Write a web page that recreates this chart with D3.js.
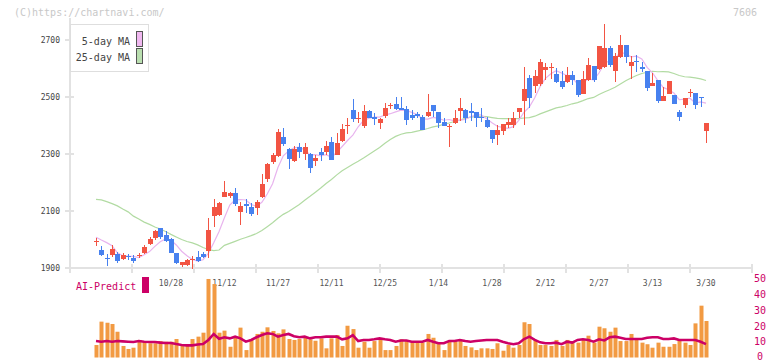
<!DOCTYPE html>
<html><head><meta charset="utf-8">
<script src="https://cdn.jsdelivr.net/npm/d3@7"></script>
<style>body{margin:0;background:#fff}svg{display:block}</style>
</head><body><svg id="c" width="772" height="361"></svg>
<script>
// ---- data ----
const tickIndex = [14,24,34,44,54,64,74,84,94,104,114];
const tickLabels = ["10/28","11/12","11/27","12/11","12/25","1/14","1/28","2/12","2/27","3/13","3/30"];
const priceTicks = [1900,2100,2300,2500,2700];
const volTicks = [0,10,20,30,40,50];

const open = [1994,1963,1936,1946,1949,1932,1942,1934,1942,1952,
1984,2004,2039,2016,2002,1952,1911,1911,1930,1940,
1949,1961,2082,2086,2150,2153,2164,2098,2123,2113,
2112,2148,2212,2273,2293,2360,2318,2275,2326,2299,
2300,2275,2308,2308,2343,2297,2346,2400,2454,2424,
2399,2451,2431,2410,2434,2468,2474,2462,2457,2437,
2439,2431,2433,2472,2448,2413,2395,2408,2451,2454,
2451,2448,2431,2419,2384,2367,2382,2402,2402,2448,
2487,2566,2539,2545,2595,2605,2581,2556,2551,2577,
2560,2511,2560,2609,2598,2604,2673,2591,2642,2683,
2609,2625,2604,2591,2540,2560,2486,2511,2507,2448,
2472,2513,2513,2501,2381];
const close = [1996,1946,1930,1967,1926,1946,1939,1926,1946,1975,
2002,2030,2008,1996,1954,1916,1920,1928,1932,1925,
1940,2033,2113,2128,2167,2164,2125,2118,2119,2089,
2131,2195,2265,2297,2376,2335,2282,2318,2308,2326,
2252,2286,2297,2328,2279,2340,2388,2402,2423,2425,
2451,2427,2422,2423,2462,2473,2458,2454,2419,2427,
2433,2384,2448,2451,2410,2399,2397,2425,2462,2425,
2445,2427,2427,2396,2353,2384,2405,2413,2425,2462,
2528,2498,2574,2622,2606,2606,2554,2534,2577,2560,
2507,2563,2612,2560,2679,2673,2612,2644,2683,2642,
2624,2623,2597,2533,2548,2486,2504,2556,2475,2431,
2498,2519,2472,2495,2410];
const high = [2007,1977,1949,1981,1956,1953,1949,1946,1954,1981,
2010,2033,2041,2030,2004,1954,1922,1931,1942,1960,
1957,2074,2141,2132,2205,2168,2180,2133,2142,2128,
2139,2230,2269,2302,2388,2391,2321,2328,2340,2340,
2302,2295,2322,2346,2359,2375,2405,2426,2493,2446,
2472,2454,2444,2427,2478,2480,2500,2499,2468,2454,
2448,2437,2511,2472,2448,2425,2405,2454,2498,2457,
2478,2448,2460,2431,2384,2402,2405,2425,2448,2462,
2606,2577,2595,2633,2618,2618,2601,2591,2606,2591,
2560,2591,2638,2609,2679,2756,2679,2655,2718,2683,
2644,2647,2624,2591,2585,2560,2536,2556,2507,2454,
2498,2528,2513,2501,2410];
const low = [1977,1942,1907,1940,1916,1928,1928,1919,1934,1949,
1981,1998,2001,1992,1952,1914,1905,1907,1895,1922,
1934,1935,2045,2082,2149,2146,2118,2051,2093,2083,
2086,2145,2203,2264,2291,2328,2247,2271,2287,2279,
2232,2258,2277,2297,2279,2297,2343,2370,2413,2408,
2390,2426,2402,2388,2425,2458,2453,2453,2402,2419,
2427,2384,2431,2431,2392,2397,2326,2405,2416,2410,
2416,2396,2413,2392,2338,2332,2367,2390,2390,2425,
2402,2460,2513,2540,2560,2562,2548,2527,2549,2542,
2501,2511,2556,2554,2595,2601,2604,2554,2636,2618,
2562,2589,2589,2521,2540,2480,2486,2511,2475,2416,
2460,2501,2458,2466,2340];
const volume = [7.9,22.7,22,21.2,16.3,7.3,5.4,6.2,11.1,10,
9,9,10.4,10,10,11.7,7.9,7.3,11.7,13.2,
15.7,49.7,46.5,15.7,17,6.8,13.2,18.9,4.7,11.7,
14.9,16.3,19.1,16.8,15.3,17.8,11.7,11.1,11.7,12.8,
11.5,10.6,12.1,5.8,12.1,14.2,7.3,20.1,18,6.2,
10,6.2,10.4,11.5,4.7,4.7,7.3,11.5,11.1,10,
10,9.4,14.9,12.5,9,4.7,10,10,11.1,7.3,
6.4,4.7,5.8,5.8,5.4,9,4.3,7.9,6.2,7.9,
22.3,21.2,11.1,7.9,7.9,7.3,11.1,7.3,11.1,10.4,
9.4,11.5,13.8,9.4,19.5,18.5,16.3,18.9,10.4,10.4,
14.9,11.1,9.4,8.4,6.2,9.4,6.8,6.8,8.5,11.7,
9.4,7.9,21.6,32.8,23.1];
const predict = [10.4,10,10.4,10,10.4,10.2,10,9.8,10.4,10,
9.8,9.8,9.4,9.2,9.2,8.5,7.9,7.7,7.7,8.2,
8.5,11.1,14.9,11.9,12.8,12.1,13.2,12.1,10,11.1,
12.8,14.2,15.3,14.9,13.2,14.2,14.9,13.5,12.8,13.2,
12.1,12.8,12.8,13.2,13.2,13.2,11.5,12.1,14.2,10.4,
11.1,11.1,11.5,12.1,11.5,11.1,10,10.8,10.8,10,
10,10,11.1,10,9,9,10.4,10.4,11.1,10.4,
10,10.4,10.8,11.1,11.1,11.1,10,9,8.4,9,
11.7,13.2,11.1,9.6,9,9,9.4,8.4,10,9.4,
11.1,11.5,11.1,10,11.5,10.8,12.8,13.2,12.5,11.7,
11.7,11.7,11.7,12.5,12.8,12.8,11.7,11.7,12.1,11.1,
11.1,11.1,11.1,10,8.5];
// moving-average values before enough closes are on the chart
const ma5Head = [2008,1998,1989,1978];
const ma25Head = [2141,2139,2133,2126,2118,2107,2097,2082,2072,2061,
2053,2044,2037,2028,2018,2009,2000,1993,1988,1981,
1972,1965,1961,1963];

// ---- derived ----
function movingAvg(n, head){
  return close.map((c,i)=> i < n-1 ? head[i] : d3.mean(close.slice(i-n+1, i+1)));
}
const ma5 = movingAvg(5, ma5Head);
const ma25 = movingAvg(25, ma25Head);

// ---- drawing ----
const svg = d3.select("#c");
const FONT = "'DejaVu Sans Mono', 'Liberation Mono', monospace";
const x = d3.scaleLinear().domain([0, close.length-1]).range([96, 706]);
const y = d3.scaleLinear().domain([1900, 2700]).range([268, 40]);
const v = d3.scaleLinear().domain([0, 50]).range([357.5, 278.5]);
const axisX = d3.scaleLinear().domain([0, 11]).range([70, 752]);
const RED = "#f25443", BLUE = "#4781ef";

// header
svg.append("text").attr("x",14).attr("y",12).attr("dominant-baseline","central")
  .attr("font-family",FONT).attr("font-size",10).attr("fill","#c8c8c8").text("(C)https://chartnavi.com/");
svg.append("text").attr("x",757).attr("y",12).attr("dominant-baseline","central").attr("text-anchor","end")
  .attr("font-family",FONT).attr("font-size",10).attr("fill","#c8c8c8").text("7606");

// axes
const ax = svg.append("g").attr("stroke","#e2e2e2").attr("stroke-width",2);
ax.append("line").attr("x1",70).attr("x2",70).attr("y1",18).attr("y2",268);
ax.append("line").attr("x1",70).attr("x2",752).attr("y1",268).attr("y2",268);
ax.selectAll(".yt").data(priceTicks).join("line").attr("x1",65).attr("x2",74)
  .attr("y1",d=>y(d)).attr("y2",d=>y(d));
ax.selectAll(".xt").data(d3.range(12)).join("line").attr("x1",d=>axisX(d)).attr("x2",d=>axisX(d))
  .attr("y1",264).attr("y2",273);

svg.selectAll(".ylab").data(priceTicks).join("text").attr("x",60).attr("y",d=>y(d))
  .attr("text-anchor","end").attr("dominant-baseline","central")
  .attr("font-family",FONT).attr("font-size",8).attr("fill","#444").text(d=>d);
svg.selectAll(".xlab").data(tickIndex).join("text").attr("x",d=>x(d)).attr("y",283)
  .attr("text-anchor","middle").attr("dominant-baseline","central")
  .attr("font-family",FONT).attr("font-size",8).attr("fill","#555").text((d,i)=>tickLabels[i]);

// moving averages
const lineGen = d3.line().x((d,i)=>x(i)).y(d=>y(d));
svg.append("path").attr("d",lineGen(ma25)).attr("fill","none").attr("stroke","#b2dba3").attr("stroke-width",1.2);
svg.append("path").attr("d",lineGen(ma5)).attr("fill","none").attr("stroke","#e8b4ee").attr("stroke-width",1.2);

// candles
const cw = 4.6;
const candles = svg.append("g").attr("shape-rendering","crispEdges");
const idx = d3.range(close.length);
candles.selectAll(".wick").data(idx).join("line")
  .attr("x1",i=>Math.round(x(i))+0.5).attr("x2",i=>Math.round(x(i))+0.5)
  .attr("y1",i=>y(high[i])).attr("y2",i=>y(low[i]))
  .attr("stroke",i=>close[i]>=open[i]?RED:BLUE).attr("stroke-width",1);
candles.selectAll(".body").data(idx).join("rect")
  .attr("x",i=>Math.round(x(i))+0.5-cw/2).attr("width",cw)
  .attr("y",i=>y(Math.max(open[i],close[i])))
  .attr("height",i=>Math.max(1, Math.abs(y(open[i])-y(close[i]))))
  .attr("fill",i=>close[i]>=open[i]?RED:BLUE);

// legend
svg.append("rect").attr("x",70.5).attr("y",24.5).attr("width",78).attr("height",47)
  .attr("fill","#fff").attr("stroke","#dedede");
[["5-day MA","#f0b8f0",41.5,31.5],["25-day MA","#badfb0",57.5,48.5]].forEach(([t,c,ty,ry])=>{
  svg.append("text").attr("x",130).attr("y",ty).attr("text-anchor","end").attr("dominant-baseline","central")
    .attr("font-family",FONT).attr("font-size",10).attr("fill","#444").text(t);
  svg.append("rect").attr("x",136.5).attr("y",ry).attr("width",6).attr("height",15)
    .attr("fill",c).attr("stroke","#555");
});

// volume panel
svg.append("g").selectAll("rect").data(idx).join("rect")
  .attr("x",i=>Math.round(x(i))-1.5).attr("width",4)
  .attr("y",i=>v(volume[i])).attr("height",i=>v(0)-v(volume[i]))
  .attr("fill","#f29a42");
svg.append("path").attr("d",d3.line().x((d,i)=>x(i)).y(d=>v(d))(predict))
  .attr("fill","none").attr("stroke","#cc0066").attr("stroke-width",2.6);
svg.selectAll(".vlab").data(volTicks).join("text").attr("x",760)
  .attr("y",d=>Math.min(v(d)+3.6, 359.5))
  .attr("text-anchor","middle")
  .attr("font-family",FONT).attr("font-size",10).attr("fill","#cc0066").text(d=>d);
svg.append("text").attr("x",76).attr("y",286).attr("dominant-baseline","central")
  .attr("font-family",FONT).attr("font-size",10).attr("fill","#cc0066").text("AI-Predict");
svg.append("rect").attr("x",142).attr("y",277).attr("width",7).attr("height",16).attr("fill","#cc0066");
</script></body></html>
